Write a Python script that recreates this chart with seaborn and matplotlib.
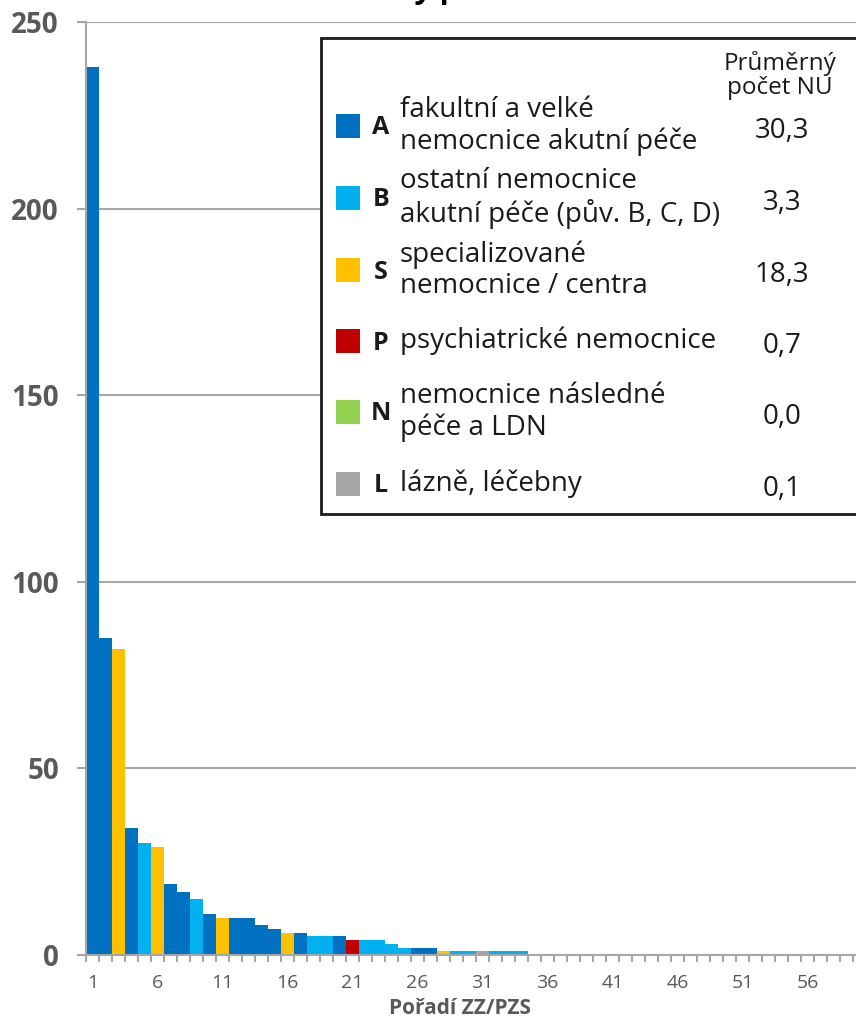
import numpy as np
import pandas as pd
import matplotlib
matplotlib.use("Agg")
import matplotlib.pyplot as plt
from matplotlib.patches import Rectangle
from matplotlib.ticker import FixedLocator
import seaborn as sns

#### Data ####
ranks = list(range(1, 61))
values = [238, 85, 82, 34, 30, 29, 19, 17, 15, 11,
          10, 10, 10, 8, 7, 6, 6, 5, 5, 5,
          4, 4, 4, 3, 2, 2, 2, 1, 1, 1,
          1, 1, 1, 1] + [0] * 26
groups = ["A", "A", "S", "A", "B", "S", "A", "A", "B", "A",
          "S", "A", "A", "A", "A", "S", "A", "B", "B", "A",
          "P", "B", "B", "B", "B", "A", "A", "S", "B", "B",
          "L", "B", "B", "B"] + ["B"] * 26

cat_codes = ["A", "B", "S", "P", "N", "L"]
cat_labels = ["fakultní a velké\nnemocnice akutní péče",
              "ostatní nemocnice\nakutní péče (pův. B, C, D)",
              "specializované\nnemocnice / centra",
              "psychiatrické nemocnice",
              "nemocnice následné\npéče a LDN",
              "lázně, léčebny"]
cat_means = ["30,3", "3,3", "18,3", "0,7", "0,0", "0,1"]
cat_colors = ["#0070C0", "#00B0F0", "#FFC000", "#C00000", "#92D050", "#A6A6A6"]

title = "Celkový počet NU"
xlabel = "Pořadí ZZ/PZS"
header = "Průměrný\npočet NU"

df = pd.DataFrame({"rank": ranks, "value": values, "group": groups})
palette = dict(zip(cat_codes, cat_colors))

#### Style ####
sns.set_style("white")
plt.rcParams["font.family"] = ["Open Sans", "DejaVu Sans"]
grey = "#595959"
line_grey = "#A6A6A6"
ink = "#1a1a1a"

W, H = 856, 1018
fig = plt.figure(figsize=(W / 100, H / 100), dpi=100)
ax = fig.add_axes([86 / W, 1 - 955 / H, (W - 86) / W, (955 - 22) / H])

sns.barplot(data=df, x="rank", y="value", hue="group", hue_order=cat_codes,
            palette=palette, saturation=1, dodge=False, width=1, linewidth=0,
            legend=False, ax=ax)

ax.set_ylim(0, 250)
ax.set_xlim(-0.5, (W - 86) / 13 - 0.5)
ax.set_yticks([0, 50, 100, 150, 200, 250])
ax.yaxis.grid(True, color=line_grey, linewidth=1.5)
ax.set_axisbelow(True)

major = [i for i in range(0, 60, 5)]
ax.set_xticks(major)
ax.set_xticklabels([str(ranks[i]) for i in major])
ax.xaxis.set_minor_locator(FixedLocator(np.arange(-0.5, 60, 1)))

ax.tick_params(axis="x", which="major", length=0, pad=14, labelsize=14, labelcolor=grey)
ax.tick_params(axis="x", which="minor", length=5, width=1.5, color=line_grey, bottom=True)
ax.tick_params(axis="y", length=6.5, width=1.5, color=line_grey, pad=13,
               labelsize=20, labelcolor=grey, left=True)
for lab in ax.get_yticklabels():
    lab.set_fontweight("bold")

for side in ["top", "right"]:
    ax.spines[side].set_visible(False)
for side in ["left", "bottom"]:
    ax.spines[side].set_color(line_grey)
    ax.spines[side].set_linewidth(1.5)

ax.set_xlabel(xlabel, fontsize=15, fontweight="bold", color=grey)
ax.xaxis.set_label_coords((460 - 86) / (W - 86), -0.046)
ax.set_ylabel("")

# title is mostly cut off by the top edge in the reference
fig.text(447 / W, 1 + 2 / H, title, ha="center", va="baseline",
         fontsize=22, fontweight="bold", color="black")

#### Legend box ####
def fx(px):
    return px / W

def fy(py):
    return 1 - py / H

fig.add_artist(Rectangle((fx(321), fy(514)), fx(W + 20) - fx(321), fy(38) - fy(514),
                         transform=fig.transFigure, facecolor="white",
                         edgecolor=ink, linewidth=2, zorder=1))

fig.text(fx(780), fy(76), header, ha="center", va="center", fontsize=17.5,
         color=ink, linespacing=1.0, zorder=3)

row_y = [126, 198, 270, 341, 412, 484]
for code, label, mean, color, y in zip(cat_codes, cat_labels, cat_means, cat_colors, row_y):
    fig.add_artist(Rectangle((fx(336), fy(y + 12)), fx(24), 24 / H,
                             transform=fig.transFigure, facecolor=color,
                             edgecolor="none", zorder=2))
    fig.text(fx(381), fy(y + 2), code, ha="center", va="center", fontsize=18,
             fontweight="bold", color=ink, zorder=3)
    fig.text(fx(400), fy(y), label, ha="left", va="center", fontsize=20,
             color=ink, linespacing=1.15, zorder=3)
    fig.text(fx(782), fy(y + 5), mean, ha="center", va="center", fontsize=20,
             color=ink, zorder=3)

fig.savefig("out.png", dpi=100)
